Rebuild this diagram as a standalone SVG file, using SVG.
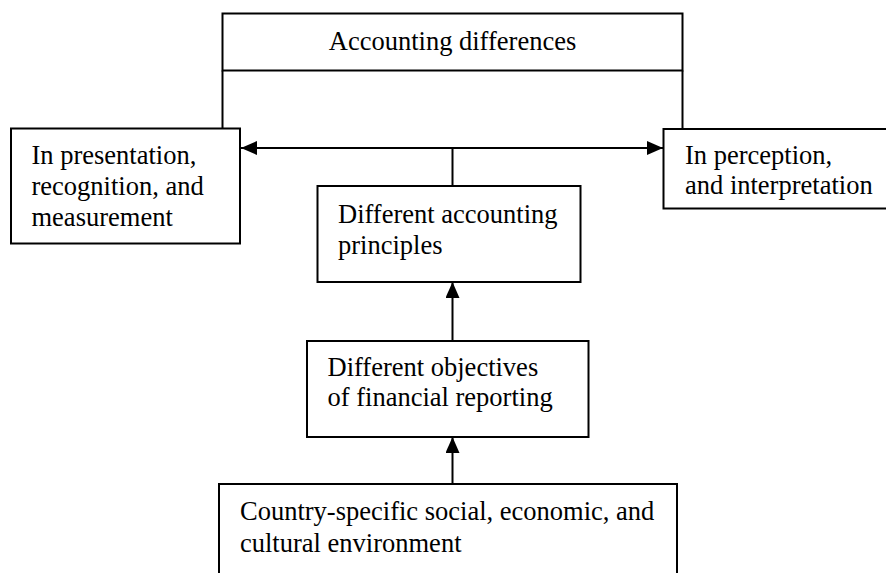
<svg xmlns="http://www.w3.org/2000/svg" width="886" height="573" viewBox="0 0 886 573">
  <style>
    .box { fill: #ffffff; stroke: #000000; stroke-width: 2; }
    .lbl { font-family: "Liberation Serif", "Times New Roman", serif; font-size: 26.5px; fill: #000000; }
    .conn { fill: none; stroke: #000000; stroke-width: 2; }
  </style>
  <defs>
    <marker id="arrow" viewBox="0 0 16 14" refX="16" refY="7" markerWidth="16" markerHeight="14" markerUnits="userSpaceOnUse" orient="auto-start-reverse">
      <path d="M0,0 L16,7 L0,14 Z" fill="#000000"/>
    </marker>
  </defs>
  <rect width="886" height="573" fill="#ffffff"/>

  <g id="connectors">
    <line class="conn" x1="222.5" y1="70.5" x2="222.5" y2="128.5"/>
    <line class="conn" x1="682.5" y1="70.5" x2="682.5" y2="129"/>
    <line class="conn" x1="241" y1="148" x2="663" y2="148" marker-start="url(#arrow)" marker-end="url(#arrow)"/>
    <line class="conn" x1="452.5" y1="148" x2="452.5" y2="186"/>
    <line class="conn" x1="452.5" y1="341" x2="452.5" y2="282" marker-end="url(#arrow)"/>
    <line class="conn" x1="452.5" y1="484" x2="452.5" y2="437" marker-end="url(#arrow)"/>
  </g>

  <g id="node-accounting-differences">
    <rect class="box" x="222.5" y="13.5" width="460" height="57"/>
    <text class="lbl" x="452.5" y="50" text-anchor="middle">Accounting differences</text>
  </g>

  <g id="node-presentation">
    <rect class="box" x="11" y="128.5" width="229" height="115"/>
    <text class="lbl" x="31.5" y="164">In presentation,</text>
    <text class="lbl" x="31.5" y="195">recognition, and</text>
    <text class="lbl" x="31.5" y="226">measurement</text>
  </g>

  <g id="node-perception">
    <rect class="box" x="663.5" y="129" width="240" height="79.5"/>
    <text class="lbl" x="685" y="163.5">In perception,</text>
    <text class="lbl" x="685" y="194">and interpretation</text>
  </g>

  <g id="node-principles">
    <rect class="box" x="317.5" y="186" width="263" height="96"/>
    <text class="lbl" x="338" y="223">Different accounting</text>
    <text class="lbl" x="338" y="253.5">principles</text>
  </g>

  <g id="node-objectives">
    <rect class="box" x="307" y="341" width="281.5" height="96"/>
    <text class="lbl" x="327.5" y="375.5">Different objectives</text>
    <text class="lbl" x="327.5" y="406">of financial reporting</text>
  </g>

  <g id="node-environment">
    <rect class="box" x="219" y="484" width="458" height="120"/>
    <text class="lbl" x="240" y="520">Country-specific social, economic, and</text>
    <text class="lbl" x="240" y="551.5">cultural environment</text>
  </g>
</svg>
